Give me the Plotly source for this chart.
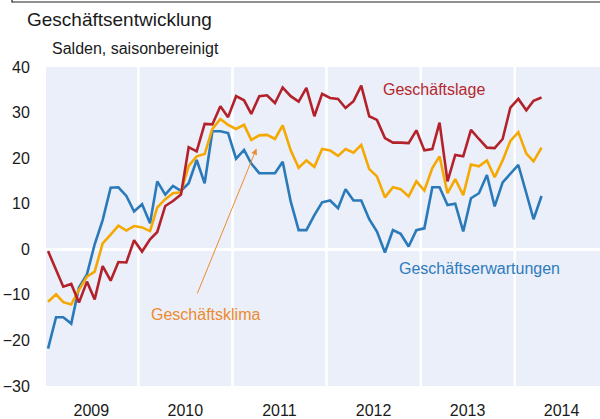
import pandas as pd
import plotly.graph_objects as go

# ---- data (monthly, Jan 2009 - Apr 2014) ----
start_month = "2009-01-01"
n_months = 64
years = [2009, 2010, 2011, 2012, 2013, 2014]
year_labels = ["2009", "2010", "2011", "2012", "2013", "2014"]

geschaeftslage = [
    -0.4, -4.4, -8.2, -7.6, -11.7, -7.1, -11.0, -3.7, -6.9, -2.8, -2.9, 2.0,
    -0.5, 2.2, 3.8, 9.5, 10.6, 12.0, 22.4, 21.5, 27.5, 27.4, 31.4, 29.0,
    33.6, 32.7, 29.7, 33.6, 33.8, 32.1, 35.5, 33.6, 32.4, 35.4, 29.2, 34.1,
    33.2, 33.0, 31.0, 32.5, 35.9, 29.2, 28.4, 24.4, 23.4, 23.4, 23.3, 26.1,
    21.7, 22.0, 27.8, 14.9, 20.7, 20.4, 26.2, 24.2, 22.3, 22.2, 24.2, 31.1,
    33.0, 30.5, 32.6, 33.3,
]
geschaeftsklima = [
    -11.5, -9.9, -11.6, -12.1, -8.9, -6.0, -4.9, 1.3, 3.2, 5.2, 4.1, 5.1,
    4.8, 4.0, 9.2, 11.0, 12.3, 12.5, 18.3, 20.4, 20.9, 26.4, 28.6, 27.3,
    26.4, 27.3, 24.0, 25.0, 25.1, 24.2, 27.2, 21.7, 17.9, 19.5, 18.1, 22.0,
    21.7, 20.5, 22.0, 21.2, 22.9, 17.6, 16.0, 11.4, 13.6, 13.2, 11.6, 14.9,
    12.9, 17.8, 20.4, 12.3, 15.4, 11.9, 18.6, 18.2, 19.5, 15.8, 19.5, 23.8,
    25.7, 21.0, 19.3, 22.3,
]
geschaeftserwartungen = [
    -21.8, -14.9, -14.9, -16.3, -8.4, -5.5, 1.1, 6.4, 13.5, 13.6, 11.7, 8.3,
    9.9, 5.7, 14.9, 12.0, 13.9, 12.8, 14.5, 19.6, 14.5, 25.9, 25.9, 25.5,
    19.9, 21.8, 18.8, 16.7, 16.7, 16.7, 19.2, 10.5, 4.2, 4.2, 7.5, 10.3,
    10.7, 9.0, 13.2, 10.7, 10.7, 6.6, 3.9, -0.7, 4.2, 3.4, 0.6, 4.2,
    4.6, 13.6, 13.6, 9.7, 10.0, 3.9, 11.2, 12.3, 16.3, 9.4, 14.7, 16.6,
    18.5, 12.3, 6.6, 11.7,
]
y_ticks = [-30, -20, -10, 0, 10, 20, 30, 40]

dates = pd.date_range(start_month, periods=n_months, freq="MS") + pd.Timedelta(days=14)

RED = "#B3222A"
YEL = "#F5A800"
BLU = "#2A79B9"
RED_T = "#B5272D"
ORA_T = "#EE8A2C"
BLU_T = "#2F7BBE"
BG = "#EAEFF9"

W, H = 600, 419
L, R, T, B = 46, 0, 67, 33
PW, PH = W - L - R, H - T - B


def px(x):
    return (x - L) / PW


def py(y):
    return (H - B - y) / PH


fig = go.Figure()
for vals, col, name in [
    (geschaeftserwartungen, BLU, "Geschäftserwartungen"),
    (geschaeftsklima, YEL, "Geschäftsklima"),
    (geschaeftslage, RED, "Geschäftslage"),
]:
    fig.add_trace(go.Scatter(x=dates, y=vals, mode="lines", name=name,
                             line=dict(color=col, width=2.6), hoverinfo="skip"))

shapes = []
for yr in years[1:]:
    shapes.append(dict(type="line", xref="x", yref="paper", x0=f"{yr}-01-01", x1=f"{yr}-01-01",
                       y0=0, y1=1, line=dict(color="white", width=2.5), layer="below"))
# top frame line
shapes.append(dict(type="line", xref="paper", yref="paper", x0=px(12), x1=px(600),
                   y0=py(2), y1=py(2), line=dict(color="#222222", width=1.2), layer="above"))
shapes.append(dict(type="line", xref="paper", yref="paper", x0=px(12), x1=px(12),
                   y0=py(0), y1=py(2.5), line=dict(color="#222222", width=1.2), layer="above"))

FONT = "Arial, Liberation Sans, sans-serif"
annotations = [
    dict(text="Geschäftsentwicklung", xref="paper", yref="paper", x=px(25), y=py(19),
         xanchor="left", yanchor="middle", showarrow=False, font=dict(size=19, color="#1a1a1a")),
    dict(text="Salden, saisonbereinigt", xref="paper", yref="paper", x=px(50), y=py(49),
         xanchor="left", yanchor="middle", showarrow=False, font=dict(size=16, color="#1a1a1a")),
    dict(text="Geschäftslage", xref="paper", yref="paper", x=px(381), y=py(89),
         xanchor="left", yanchor="middle", showarrow=False, font=dict(size=16, color=RED_T)),
    dict(text="Geschäftserwartungen", xref="paper", yref="paper", x=px(397), y=py(268),
         xanchor="left", yanchor="middle", showarrow=False, font=dict(size=16, color=BLU_T)),
    dict(text="Geschäftsklima", xref="paper", yref="paper", x=px(149), y=py(314),
         xanchor="left", yanchor="middle", showarrow=False, font=dict(size=16, color=ORA_T)),
    dict(text="", xref="paper", yref="paper", x=px(256.5), y=py(148.5),
         axref="pixel", ayref="pixel", ax=196.7 - 256.5, ay=295 - 148.5,
         showarrow=True, arrowhead=2, arrowsize=1.2, arrowwidth=1, arrowcolor=ORA_T),
]

fig.update_layout(
    width=W, height=H,
    margin=dict(l=L, r=R, t=T, b=B, pad=0, autoexpand=False),
    paper_bgcolor="white", plot_bgcolor=BG,
    showlegend=False,
    font=dict(family=FONT, size=16, color="#1a1a1a"),
    shapes=shapes, annotations=annotations,
    xaxis=dict(type="date", range=["2009-01-07", "2014-11-28"], showgrid=False, zeroline=False,
               showline=False, tickmode="array", automargin=False,
               tickvals=[f"{y}-07-02" for y in years], ticktext=year_labels,
               ticks="outside", ticklen=10, tickcolor="rgba(0,0,0,0)",
               tickfont=dict(size=16), fixedrange=True),
    yaxis=dict(range=[-30, 40], tickmode="array", tickvals=y_ticks, automargin=False,
               showgrid=False, zeroline=True, zerolinecolor="white", zerolinewidth=2.5,
               showline=False, ticks="outside", ticklen=12, tickcolor="rgba(0,0,0,0)",
               tickfont=dict(size=16), fixedrange=True),
)

fig.write_html("out.html", config={"displayModeBar": False},
               post_script="document.body.style.margin='0';document.body.style.overflow='hidden';")
